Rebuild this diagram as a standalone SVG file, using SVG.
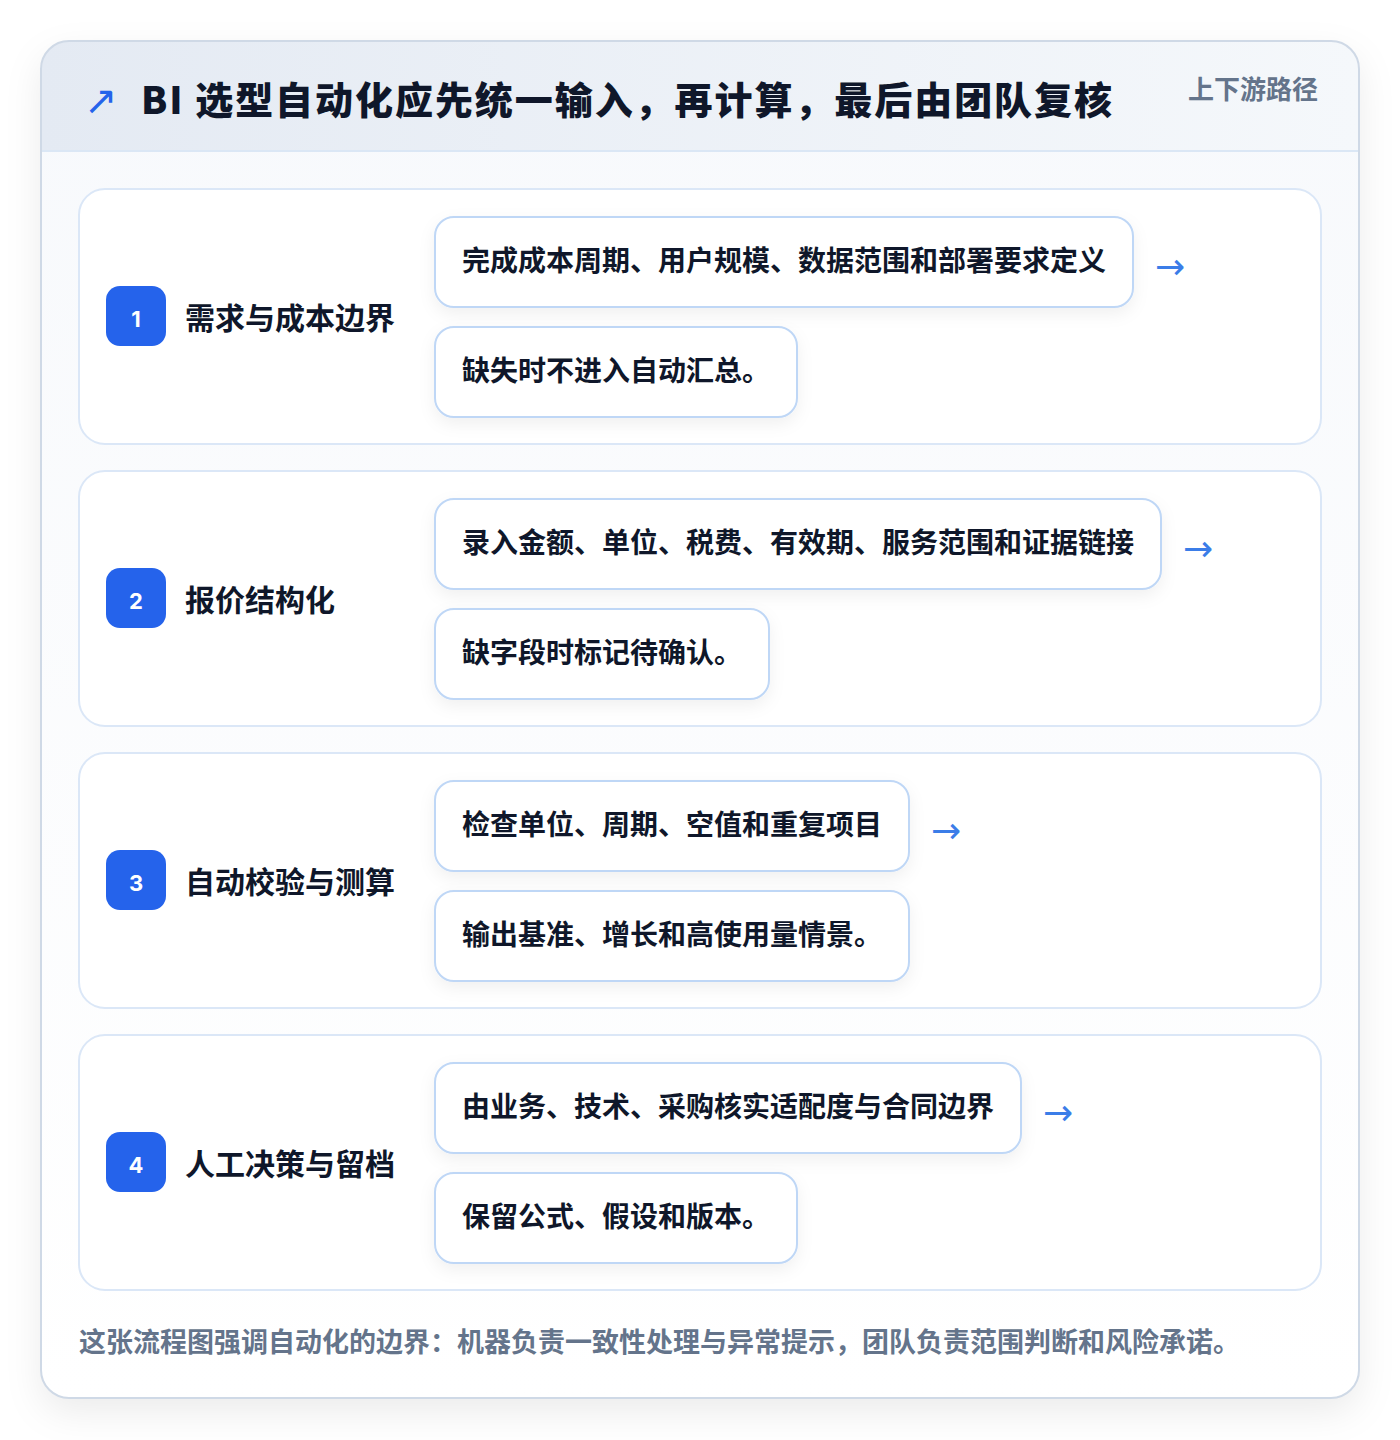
<svg xmlns="http://www.w3.org/2000/svg" width="1400" height="1440" viewBox="0 0 1400 1440">
  <defs>
    <linearGradient id="hdr" x1="0" y1="0" x2="1" y2="0">
      <stop offset="0" stop-color="#e4eaf3"/>
      <stop offset="1" stop-color="#f5f8fb"/>
    </linearGradient>
    <linearGradient id="body" x1="0" y1="0" x2="0" y2="1">
      <stop offset="0" stop-color="#f7f9fc"/>
      <stop offset="1" stop-color="#ffffff"/>
    </linearGradient>
    <filter id="cardShadow" x="-10%" y="-10%" width="120%" height="120%">
      <feDropShadow dx="0" dy="14" stdDeviation="18" flood-color="#0f172a" flood-opacity="0.08"/>
    </filter>
    <filter id="boxShadow" x="-10%" y="-20%" width="120%" height="150%">
      <feDropShadow dx="0" dy="6" stdDeviation="8" flood-color="#0f172a" flood-opacity="0.06"/>
    </filter>
    <clipPath id="cardClip">
      <rect x="41" y="41" width="1318" height="1357" rx="28"/>
    </clipPath>
    <style>
      .block { fill: #ffffff; stroke: #dbe7f7; stroke-width: 2; }
      .item { fill: #ffffff; stroke: #bfd7f6; stroke-width: 2; filter: url(#boxShadow); }
      .badge { fill: #2563eb; }
      .num { font-family: Inter, "Liberation Sans", sans-serif; font-weight: 700; font-size: 22px; fill: #ffffff; text-anchor: middle; }
      .stitle { font-family: "Noto Sans CJK SC", sans-serif; font-weight: 700; font-size: 30px; fill: #0f172a; }
      .itext { font-family: "Noto Sans CJK SC", sans-serif; font-weight: 700; font-size: 28px; fill: #0f172a; }
      .arrow { font-family: "DejaVu Sans", sans-serif; font-size: 36px; fill: #3b7de8; }
      .title { font-family: "Noto Sans CJK SC", sans-serif; font-weight: 900; font-size: 38px; fill: #0f172a; }
      .tag { font-family: "Noto Sans CJK SC", sans-serif; font-weight: 700; font-size: 26px; fill: #64748b; }
      .foot { font-family: "Noto Sans CJK SC", sans-serif; font-weight: 700; font-size: 27px; fill: #64748b; }
    </style>
  </defs>

  <rect x="0" y="0" width="1400" height="1440" fill="#ffffff"/>

  <g id="card">
    <rect x="41" y="41" width="1318" height="1357" rx="28" fill="url(#body)" filter="url(#cardShadow)"/>
    <g clip-path="url(#cardClip)">
      <rect x="41" y="41" width="1318" height="110" fill="url(#hdr)"/>
      <line x1="41" y1="151" x2="1359" y2="151" stroke="#dbe7f5" stroke-width="2"/>
    </g>
    <rect x="41" y="41" width="1318" height="1357" rx="28" fill="none" stroke="#cfd9e6" stroke-width="2"/>
  </g>

  <g id="header">
    <text x="84" y="114" font-family="DejaVu Sans, sans-serif" font-size="40" fill="#2563eb">↗</text>
    <text class="title" x="141" y="114" textLength="971" lengthAdjust="spacing">BI 选型自动化应先统一输入，再计算，最后由团队复核</text>
    <text class="tag" x="1318" y="99" text-anchor="end">上下游路径</text>
  </g>

  <g id="step1">
    <rect class="block" x="79" y="189" width="1242" height="255" rx="26"/>
    <rect class="badge" x="106" y="286" width="60" height="60" rx="14"/>
    <text class="num" x="136" y="327">1</text>
    <text class="stitle" x="185" y="329">需求与成本边界</text>
    <g id="step1-a">
      <rect class="item" x="435" y="217" width="698" height="90" rx="19"/>
      <text class="itext" x="462" y="271">完成成本周期、用户规模、数据范围和部署要求定义</text>
    </g>
    <g id="step1-b">
      <rect class="item" x="435" y="327" width="362" height="90" rx="19"/>
      <text class="itext" x="462" y="381">缺失时不进入自动汇总。</text>
    </g>
  </g>

  <g id="step2">
    <rect class="block" x="79" y="471" width="1242" height="255" rx="26"/>
    <rect class="badge" x="106" y="568" width="60" height="60" rx="14"/>
    <text class="num" x="136" y="609">2</text>
    <text class="stitle" x="185" y="611">报价结构化</text>
    <g id="step2-a">
      <rect class="item" x="435" y="499" width="726" height="90" rx="19"/>
      <text class="itext" x="462" y="553">录入金额、单位、税费、有效期、服务范围和证据链接</text>
    </g>
    <g id="step2-b">
      <rect class="item" x="435" y="609" width="334" height="90" rx="19"/>
      <text class="itext" x="462" y="663">缺字段时标记待确认。</text>
    </g>
  </g>

  <g id="step3">
    <rect class="block" x="79" y="753" width="1242" height="255" rx="26"/>
    <rect class="badge" x="106" y="850" width="60" height="60" rx="14"/>
    <text class="num" x="136" y="891">3</text>
    <text class="stitle" x="185" y="893">自动校验与测算</text>
    <g id="step3-a">
      <rect class="item" x="435" y="781" width="474" height="90" rx="19"/>
      <text class="itext" x="462" y="835">检查单位、周期、空值和重复项目</text>
    </g>
    <g id="step3-b">
      <rect class="item" x="435" y="891" width="474" height="90" rx="19"/>
      <text class="itext" x="462" y="945">输出基准、增长和高使用量情景。</text>
    </g>
  </g>

  <g id="step4">
    <rect class="block" x="79" y="1035" width="1242" height="255" rx="26"/>
    <rect class="badge" x="106" y="1132" width="60" height="60" rx="14"/>
    <text class="num" x="136" y="1173">4</text>
    <text class="stitle" x="185" y="1175">人工决策与留档</text>
    <g id="step4-a">
      <rect class="item" x="435" y="1063" width="586" height="90" rx="19"/>
      <text class="itext" x="462" y="1117">由业务、技术、采购核实适配度与合同边界</text>
    </g>
    <g id="step4-b">
      <rect class="item" x="435" y="1173" width="362" height="90" rx="19"/>
      <text class="itext" x="462" y="1227">保留公式、假设和版本。</text>
    </g>
  </g>

  <g id="connectors">
    <text class="arrow" x="1155" y="279">→</text>
    <text class="arrow" x="1183" y="561">→</text>
    <text class="arrow" x="931" y="843">→</text>
    <text class="arrow" x="1043" y="1125">→</text>
  </g>

  <g id="footer">
    <text class="foot" x="79" y="1352">这张流程图强调自动化的边界：机器负责一致性处理与异常提示，团队负责范围判断和风险承诺。</text>
  </g>
</svg>
